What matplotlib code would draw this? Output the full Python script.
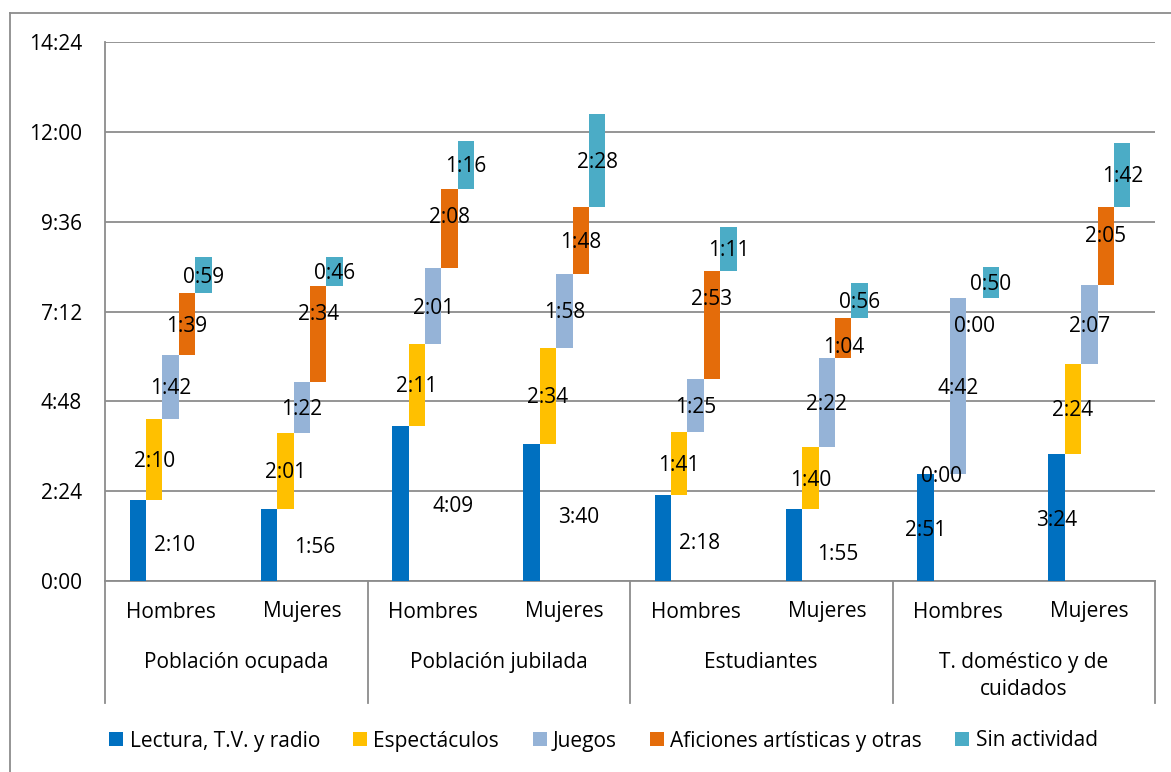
import matplotlib.pyplot as plt
from matplotlib.lines import Line2D
from matplotlib.patches import Patch
from matplotlib.ticker import FuncFormatter, MultipleLocator

plt.rcParams['font.family'] = ['Open Sans', 'DejaVu Sans']
plt.rcParams['font.size'] = 15

groups = ["Población ocupada", "Población jubilada", "Estudiantes",
          "T. doméstico y de\ncuidados"]
sexes = ["Hombres", "Mujeres"]
series = ["Lectura, T.V. y radio", "Espectáculos", "Juegos",
          "Aficiones artísticas y otras", "Sin actividad"]
colors = ["#0070C0", "#FFC000", "#95B3D7", "#E46C0A", "#4BACC6"]

# tiempo medio (h:mm), Hombres/Mujeres de cada grupo
lectura = ["2:10", "1:56", "4:09", "3:40", "2:18", "1:55", "2:51", "3:24"]
espectaculos = ["2:10", "2:01", "2:11", "2:34", "1:41", "1:40", "0:00", "2:24"]
juegos = ["1:42", "1:22", "2:01", "1:58", "1:25", "2:22", "4:42", "2:07"]
aficiones = ["1:39", "2:34", "2:08", "1:48", "2:53", "1:04", "0:00", "2:05"]
sin_actividad = ["0:59", "0:46", "1:16", "2:28", "1:11", "0:56", "0:50", "1:42"]

# label nudges in pixels (right, down) for (category, series)
shift = {
    (0, 0): (37, 5), (1, 0): (46, 3), (2, 0): (53, 3), (3, 0): (47, 5),
    (4, 0): (37, 6), (5, 0): (44, 9), (6, 0): (0, 3), (7, 0): (0, 3),
    (1, 3): (0, -19), (2, 3): (0, -11), (4, 3): (0, -25), (5, 3): (0, 9),
    (6, 3): (0, 28), (7, 3): (0, -9),
}


def minutes(s):
    h, m = s.split(":")
    return int(h) * 60 + int(m)


def hmm(v, pos=None):
    v = int(round(v))
    return "%d:%02d" % (v // 60, v % 60)


data = [lectura, espectaculos, juegos, aficiones, sin_actividad]
ncat = len(lectura)
w = 1 / 8
grid_c = "#8c8c8c"

fig = plt.figure(figsize=(11.71, 7.72), dpi=100)
ax = fig.add_axes([105 / 1171, 191 / 772, 1050 / 1171, 539 / 772])

base = [0] * ncat
for j, (vals, col) in enumerate(zip(data, colors)):
    mins = [minutes(v) for v in vals]
    xs = [i + (j - 2) * w for i in range(ncat)]
    ax.bar(xs, mins, width=w, bottom=base, color=col, label=series[j],
           zorder=3)
    for i in range(ncat):
        dx, dy = shift.get((i, j), (0, 2))
        ax.annotate(vals[i], (xs[i], base[i] + mins[i] / 2),
                    xytext=(dx * 0.72, -dy * 0.72), textcoords="offset points",
                    ha="center", va="center", fontsize=15, zorder=4)
    base = [b + m for b, m in zip(base, mins)]

ax.set_xlim(-0.5, ncat - 0.5)
ax.set_ylim(0, 864)
ax.yaxis.set_major_locator(MultipleLocator(144))
ax.yaxis.set_major_formatter(FuncFormatter(hmm))
ax.tick_params(axis="y", length=0, pad=16.5, labelsize=15)
ax.set_xticks([])
ax.grid(axis="y", color=grid_c, linewidth=1.3, zorder=0)
ax.set_axisbelow(True)
for s in ["top", "right"]:
    ax.spines[s].set_visible(False)
for s in ["left", "bottom"]:
    ax.spines[s].set_color(grid_c)
    ax.spines[s].set_linewidth(1.3)

# two-level category axis
trans = ax.get_xaxis_transform()
for i in range(ncat):
    ax.text(i, -31 / 539, sexes[i % 2], transform=trans, ha="center",
            va="center", fontsize=15)
for g, name in enumerate(groups):
    ax.text(2 * g + 0.5, -71 / 539, name, transform=trans,
            ha="center", va="top", fontsize=15, linespacing=1.35)
for b in [-0.5, 1.5, 3.5, 5.5, 7.5]:
    ax.add_line(Line2D([b, b], [0, -122 / 539], transform=trans,
                       color=grid_c, linewidth=1.3, clip_on=False))

handles = [Patch(facecolor=c) for c in colors]
fig.legend(handles, series, loc="center", bbox_to_anchor=(603.5 / 1171, 31 / 772),
           ncol=5, frameon=False, fontsize=15, handlelength=0.67,
           handleheight=0.67, handletextpad=0.3, columnspacing=1.6)

# chart border
fig.add_artist(Line2D([10 / 1171, 1], [1 - 13 / 772] * 2, color=grid_c,
                      linewidth=1.3))
fig.add_artist(Line2D([10 / 1171] * 2, [0, 1 - 13 / 772], color=grid_c,
                      linewidth=1.3))

fig.savefig("out.png", dpi=100)
